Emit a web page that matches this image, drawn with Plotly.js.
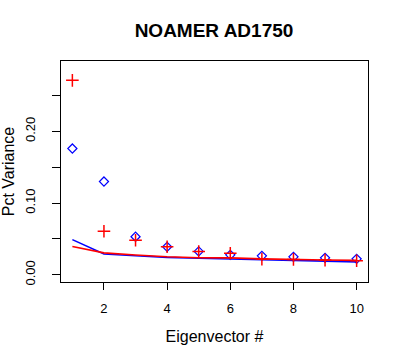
<!DOCTYPE html>
<html>
<head>
<meta charset="utf-8">
<script src="https://cdn.plot.ly/plotly-3.0.1.min.js"></script>
<style>html,body{margin:0;padding:0;background:#fff;}</style>
</head>
<body>
<div id="chart" style="width:400px;height:360px;"></div>
<script>
const eigenvector = [1,2,3,4,5,6,7,8,9,10];
const redPoints = [0.271, 0.0607, 0.048, 0.039, 0.0325, 0.030, 0.0218, 0.0214, 0.0204, 0.0195];
const bluePoints = [0.176, 0.130, 0.053, 0.039, 0.0325, 0.0278, 0.0264, 0.025, 0.0236, 0.0222];
const redLine = [0.0394, 0.0305, 0.0275, 0.025, 0.0237, 0.0235, 0.0222, 0.021, 0.0205, 0.020];
const blueLine = [0.049, 0.029, 0.0265, 0.0242, 0.023, 0.0225, 0.021, 0.020, 0.0186, 0.018];
const yTickVals = [0, 0.05, 0.10, 0.15, 0.20, 0.25];
const yTickText = ["0.00", "", "0.10", "", "0.20", ""];
const xTickVals = [2, 4, 6, 8, 10];

const font = "Liberation Sans, Arial, sans-serif";
const traces = [
  {x: eigenvector, y: blueLine, mode: 'lines', line: {color: '#0000ff', width: 1.6}, hoverinfo: 'skip'},
  {x: eigenvector, y: bluePoints, mode: 'markers', marker: {symbol: 'diamond-open', size: 7, color: '#0000ff', line: {width: 1.2, color: '#0000ff'}}},
  {x: eigenvector, y: redLine, mode: 'lines', line: {color: '#ff0000', width: 1.6}, hoverinfo: 'skip'},
  {x: eigenvector, y: redPoints, mode: 'markers', marker: {symbol: 'cross-thin', size: 9, color: '#ff0000', line: {width: 1.5, color: '#ff0000'}}}
];
const layout = {
  width: 400, height: 360,
  margin: {l: 61, r: 32, t: 61, b: 78},
  paper_bgcolor: '#fff', plot_bgcolor: '#fff',
  showlegend: false,
  title: {text: '<b>NOAMER AD1750</b>', font: {family: font, size: 19, color: '#000'}, x: 0.535, xanchor: 'center', y: 0.915, yanchor: 'middle'},
  xaxis: {
    range: [0.64, 10.36], tickvals: xTickVals, ticks: 'outside', ticklen: 7, tickcolor: '#000', tickwidth: 1,
    showline: true, mirror: true, linecolor: '#000', linewidth: 1, showgrid: false, zeroline: false,
    tickfont: {family: font, size: 13, color: '#000'}, ticklabelstandoff: 7,
    title: {text: 'Eigenvector #', font: {family: font, size: 16, color: '#000'}, standoff: 16}
  },
  yaxis: {
    range: [-0.0101, 0.298], tickvals: yTickVals, ticktext: yTickText, ticks: 'outside', ticklen: 8, tickcolor: '#000', tickwidth: 1,
    tickangle: -90,
    showline: true, mirror: true, linecolor: '#000', linewidth: 1, showgrid: false, zeroline: false,
    tickfont: {family: font, size: 13, color: '#000'}, ticklabelstandoff: 12,
    title: {text: 'Pct Variance', font: {family: font, size: 16, color: '#000'}, standoff: 10}
  }
};
Plotly.newPlot('chart', traces, layout, {displayModeBar: false, staticPlot: true});
</script>
</body>
</html>
